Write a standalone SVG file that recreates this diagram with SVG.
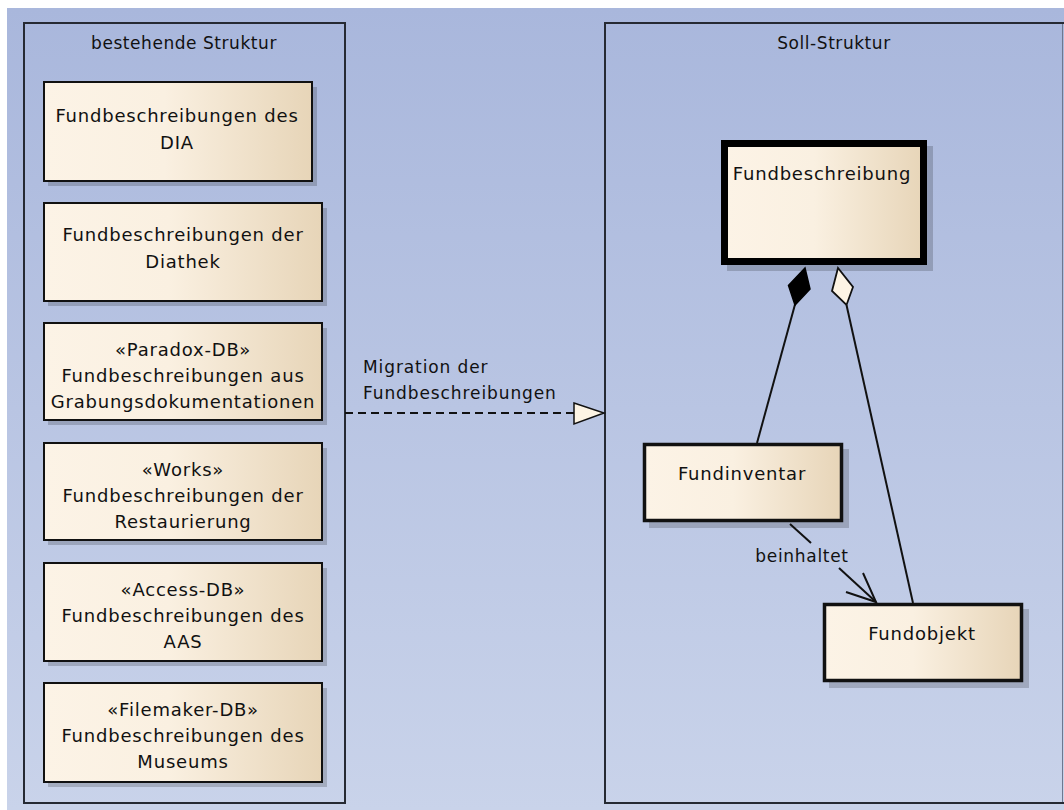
<svg xmlns="http://www.w3.org/2000/svg" width="1064" height="810" viewBox="0 0 1064 810">
<defs>
<linearGradient id="bg" x1="0" y1="0" x2="0" y2="1">
<stop offset="0" stop-color="#a9b7dc"/>
<stop offset="1" stop-color="#c9d3ea"/>
</linearGradient>
<linearGradient id="cls" x1="0" y1="0" x2="1" y2="0">
<stop offset="0" stop-color="#fcf3e6"/>
<stop offset="0.45" stop-color="#faf0e1"/>
<stop offset="1" stop-color="#e7d5b8"/>
</linearGradient>
<marker id="hollowTri" markerUnits="userSpaceOnUse" markerWidth="34" markerHeight="26" refX="31" refY="11" orient="auto">
<path d="M1,1 L31,11 L1,22 Z" fill="#fdf4e4" stroke="#111" stroke-width="1.5"/>
</marker>
</defs>
<style>
.pkg{fill:none;stroke:#262a33;stroke-width:2}
.box{fill:url(#cls);stroke:#111;stroke-width:2}
.sh{fill:#000;opacity:0.18}
.t{font-family:"DejaVu Sans",sans-serif;font-size:18px;letter-spacing:0.8px;fill:#111;text-anchor:middle}
.ttl{font-family:"DejaVu Sans",sans-serif;font-size:17px;letter-spacing:0.55px;fill:#111;text-anchor:middle}
.lbl{font-family:"DejaVu Sans",sans-serif;font-size:17px;letter-spacing:0.9px;fill:#111}
.ln{fill:none;stroke:#111;stroke-width:2}
</style>
<rect x="0" y="0" width="1064" height="810" fill="#ffffff"/>
<rect x="7" y="8" width="1057" height="802" fill="url(#bg)"/>

<g id="pkg-bestehend">
<rect class="pkg" x="24" y="23" width="321" height="780"/>
<text class="ttl" x="184" y="49">bestehende Struktur</text>
</g>
<g id="pkg-soll">
<rect class="pkg" x="605" y="23" width="470" height="780"/>
<line x1="1062.5" y1="24" x2="1062.5" y2="802" stroke="#6e7890" stroke-width="1"/>
<text class="ttl" x="834" y="49">Soll-Struktur</text>
</g>

<g id="dia">
<rect class="sh" x="48" y="87" width="269" height="99"/>
<rect class="box" x="44" y="82" width="268" height="99"/>
<text class="t" x="177" y="121.5">Fundbeschreibungen des</text>
<text class="t" x="177" y="148.5">DIA</text>
</g>
<g id="diathek">
<rect class="sh" x="48" y="208" width="279" height="98"/>
<rect class="box" x="44" y="203" width="278" height="98"/>
<text class="t" x="183" y="241">Fundbeschreibungen der</text>
<text class="t" x="183" y="268">Diathek</text>
</g>
<g id="paradox">
<rect class="sh" x="48" y="328" width="279" height="97"/>
<rect class="box" x="44" y="323" width="278" height="97"/>
<text class="t" x="183" y="356">«Paradox-DB»</text>
<text class="t" x="183" y="382">Fundbeschreibungen aus</text>
<text class="t" x="183" y="408">Grabungsdokumentationen</text>
</g>
<g id="works">
<rect class="sh" x="48" y="448" width="279" height="97"/>
<rect class="box" x="44" y="443" width="278" height="97"/>
<text class="t" x="183" y="476">«Works»</text>
<text class="t" x="183" y="502">Fundbeschreibungen der</text>
<text class="t" x="183" y="528">Restaurierung</text>
</g>
<g id="access">
<rect class="sh" x="48" y="568" width="279" height="98"/>
<rect class="box" x="44" y="563" width="278" height="98"/>
<text class="t" x="183" y="596">«Access-DB»</text>
<text class="t" x="183" y="622">Fundbeschreibungen des</text>
<text class="t" x="183" y="648">AAS</text>
</g>
<g id="filemaker">
<rect class="sh" x="48" y="688" width="279" height="99"/>
<rect class="box" x="44" y="683" width="278" height="99"/>
<text class="t" x="183" y="716">«Filemaker-DB»</text>
<text class="t" x="183" y="742">Fundbeschreibungen des</text>
<text class="t" x="183" y="768">Museums</text>
</g>

<g id="fundbeschreibung">
<rect class="sh" x="727" y="146" width="206" height="125"/>
<rect x="724.5" y="143.5" width="199" height="118" fill="url(#cls)" stroke="#000" stroke-width="7"/>
<text class="t" x="822" y="179.5">Fundbeschreibung</text>
</g>
<g id="fundinventar">
<rect class="sh" x="649" y="449" width="200" height="79"/>
<rect x="644.5" y="444.5" width="197" height="76" fill="url(#cls)" stroke="#111" stroke-width="3.5"/>
<text class="t" x="742" y="479.5">Fundinventar</text>
</g>
<g id="fundobjekt">
<rect class="sh" x="829" y="609" width="200" height="79"/>
<rect x="824.5" y="604.5" width="197" height="76" fill="url(#cls)" stroke="#111" stroke-width="3.5"/>
<text class="t" x="922" y="639.5">Fundobjekt</text>
</g>

<g id="connectors">
<line class="ln" x1="345" y1="413" x2="604" y2="413" stroke-dasharray="8,5" marker-end="url(#hollowTri)"/>
<text class="lbl" x="363" y="373">Migration der</text>
<text class="lbl" x="363" y="399">Fundbeschreibungen</text>

<line class="ln" x1="757" y1="443" x2="795" y2="304.6"/>
<path d="M805,268 L788.5,285.5 L795,305 L810,289 Z" fill="#000" stroke="#000" stroke-width="1.5"/>

<line class="ln" x1="913" y1="603" x2="846.5" y2="305"/>
<path d="M838,268 L832,291 L846.5,305 L853,287 Z" fill="#fdf4e4" stroke="#111" stroke-width="1.8"/>

<line class="ln" x1="790" y1="524" x2="811" y2="543"/>
<line class="ln" x1="839" y1="568" x2="876" y2="602"/>
<path class="ln" d="M863,573 L876,602 L846,592"/>
<text class="lbl" x="802" y="562" text-anchor="middle" style="letter-spacing:0.7px">beinhaltet</text>
</g>
</svg>
